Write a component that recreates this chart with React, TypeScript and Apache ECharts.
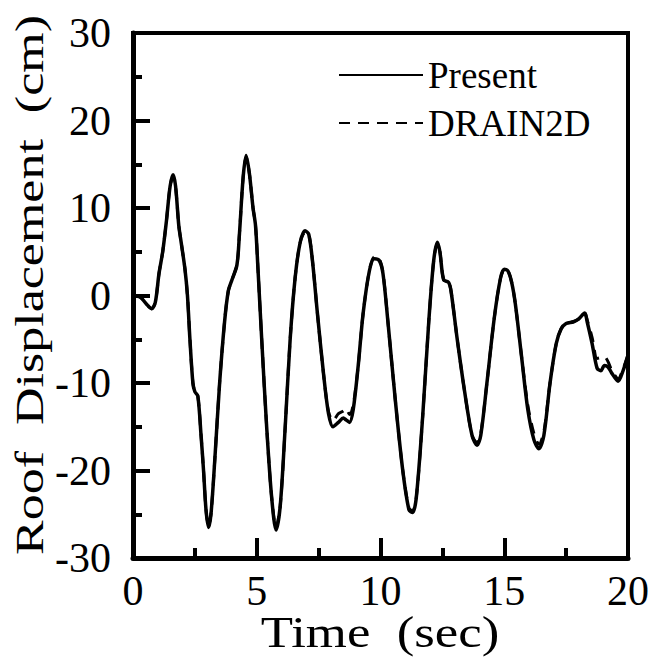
import React, { useEffect, useRef } from "react";
import * as echarts from "echarts";

const times = [
  0, 0.3, 0.55, 0.75, 0.9, 1.05, 1.2, 1.35, 1.5, 1.62, 1.72, 1.85, 1.95, 2.1, 2.2, 2.3, 2.42, 2.5, 2.62, 2.75,
  2.85, 2.95, 3.05, 3.15, 3.3, 3.5, 3.7, 3.85, 4.0, 4.2, 4.3, 4.45, 4.57, 4.7, 4.85, 4.95, 5.05, 5.2, 5.4, 5.6,
  5.78, 5.95, 6.15, 6.35, 6.55, 6.75, 6.95, 7.1, 7.25, 7.45, 7.7, 7.9, 8.08, 8.3, 8.5, 8.6, 8.75, 8.9, 9.1, 9.3,
  9.55, 9.75, 9.95, 10.1, 10.3, 10.6, 10.9, 11.15, 11.3, 11.45, 11.7, 11.95, 12.15, 12.3, 12.4, 12.55, 12.75, 12.85, 13.1, 13.4,
  13.7, 13.9, 14.05, 14.3, 14.6, 14.85, 15.0, 15.15, 15.3, 15.45, 15.7, 15.95, 16.2, 16.4, 16.6, 16.85, 17.1, 17.3, 17.5, 17.8,
  18.0, 18.25, 18.35, 18.55, 18.75, 18.9, 19.05, 19.2, 19.35, 19.6, 19.8, 20.0,
];

const present = [
  0, -0.2, -1.0, -1.5, -0.8, 2.5, 5.0, 8.5, 12.5, 13.8, 12.5, 8.0, 6.0, 3.0, 0, -5, -10, -11, -11.5, -16,
  -20, -24.5, -26.5, -25, -19, -10, -3, 0.5, 1.8, 3.5, 7, 13.5, 16.0, 14, 10, 8, 3, -5, -15, -23,
  -26.8, -24, -15, -5, 2, 6, 7.4, 7, 4, -2, -9, -13.5, -15, -14.5, -14, -14.2, -14.5, -13, -8, -2,
  2.8, 4.2, 4.0, 2.5, -3, -12, -20, -24.5, -24.8, -23, -14, -3, 4, 6.1, 5, 1.8, 1.5, 0.5, -5, -11,
  -16, -17.1, -16, -10, -2.5, 2, 3.0, 2.8, 1.5, -1, -7, -13, -16.5, -17.5, -16, -10, -5.5, -3.8, -3.2, -3,
  -2.7, -2.0, -3, -5.5, -8.3, -8.6, -8.0, -8.2, -8.9, -9.8, -8.6, -6.8,
];

const drain2d = [
  0, -0.2, -1.0, -1.5, -0.8, 2.5, 5.0, 8.5, 12.5, 13.6, 12.4, 8.0, 6.0, 3.0, 0, -5, -10, -11, -11.5, -16,
  -20, -24.5, -26.3, -25, -19, -10, -3, 0.5, 1.8, 3.5, 7, 13.5, 15.8, 14, 10, 8, 3, -5, -15, -23,
  -26.5, -24, -15, -5, 2, 6, 7.2, 7, 4, -2, -9, -13.3, -14.3, -13.5, -13.2, -12.9, -13.6, -12.5, -8, -2,
  2.8, 4.4, 4.2, 2.6, -3, -12, -20, -24.3, -24.6, -23, -14, -3, 4, 6.0, 5, 1.8, 1.5, 0.5, -5, -11,
  -16, -16.8, -15.8, -10, -2.5, 2, 2.9, 2.8, 1.5, -1, -7, -12.5, -15.8, -17.0, -15.6, -10, -5.5, -3.8, -3.2, -3,
  -2.7, -2.0, -2.8, -4.8, -7.2, -7.1, -7.0, -7.6, -8.6, -9.5, -8.4, -6.8,
];

const yTicks = { min: -30, max: 30, interval: 10 };
const xTicks = { min: 0, max: 20, interval: 5 };

const FONT = "Liberation Serif, Times New Roman, Times, serif";

export default function App() {
  const ref = useRef<HTMLDivElement>(null);
  useEffect(() => {
    if (!ref.current) return;
    const chart = echarts.init(ref.current, null, { renderer: "svg" });
    const presentData = times.map((t, i) => [t, present[i]]);
    const drainData = times.map((t, i) => [t, drain2d[i]]);
    chart.setOption({
      animation: false,
      backgroundColor: "#fff",
      grid: {
        left: 133,
        right: 25,
        top: 33,
        bottom: 101,
        show: true,
        borderColor: "#000",
        borderWidth: 4,
        backgroundColor: "transparent",
      },
      legend: {
        orient: "vertical",
        left: 333,
        top: 50,
        itemWidth: 84,
        itemHeight: 14,
        itemGap: 8,
        data: ["Present", "DRAIN2D"],
        itemStyle: { opacity: 0 },
        textStyle: { fontFamily: FONT, fontSize: 37, color: "#000", lineHeight: 40, padding: [0, 0, 0, 0] },
      },
      xAxis: {
        type: "value",
        min: xTicks.min,
        max: xTicks.max,
        interval: xTicks.interval,
        axisLine: { show: true, onZero: false, lineStyle: { color: "#000", width: 5 } },
        axisTick: { show: true, inside: true, length: 20, lineStyle: { color: "#000", width: 4 } },
        minorTick: { show: true, splitNumber: 2, length: 10, lineStyle: { color: "#000", width: 4 } },
        splitLine: { show: false },
        axisLabel: { fontFamily: FONT, fontSize: 42, color: "#000", margin: 12 },
      },
      yAxis: {
        type: "value",
        min: yTicks.min,
        max: yTicks.max,
        interval: yTicks.interval,
        axisLine: { show: true, onZero: false, lineStyle: { color: "#000", width: 5 } },
        axisTick: { show: true, inside: true, length: 17, lineStyle: { color: "#000", width: 4 } },
        minorTick: { show: true, splitNumber: 2, length: 9, lineStyle: { color: "#000", width: 4 } },
        splitLine: { show: false },
        axisLabel: { fontFamily: FONT, fontSize: 42, color: "#000", margin: 22 },
      },
      graphic: [
        {
          type: "text",
          x: 380,
          y: 633,
          scaleX: 1.2,
          style: {
            text: "Time  (sec)",
            fontFamily: FONT,
            fontSize: 44,
            fill: "#000",
            textAlign: "center",
            textVerticalAlign: "middle",
          },
        },
        {
          type: "text",
          x: 30,
          y: 285,
          rotation: Math.PI / 2,
          scaleX: 1.3,
          style: {
            text: "Roof  Displacement  (cm)",
            fontFamily: FONT,
            fontSize: 40,
            fill: "#000",
            textAlign: "center",
            textVerticalAlign: "middle",
          },
        },
      ],
      series: [
        {
          name: "DRAIN2D",
          type: "line",
          data: drainData,
          symbol: "none",
          smooth: 0.3,
          color: "#000",
          lineStyle: { color: "#000", width: 3, type: [11, 8] },
          z: 2,
        },
        {
          name: "Present",
          type: "line",
          data: presentData,
          symbol: "none",
          smooth: 0.3,
          color: "#000",
          lineStyle: { color: "#000", width: 3.5 },
          z: 3,
        },
      ],
    });
    return () => chart.dispose();
  }, []);
  return <div ref={ref} style={{ width: 653, height: 659, position: "absolute", left: 0, top: 0 }} />;
}
